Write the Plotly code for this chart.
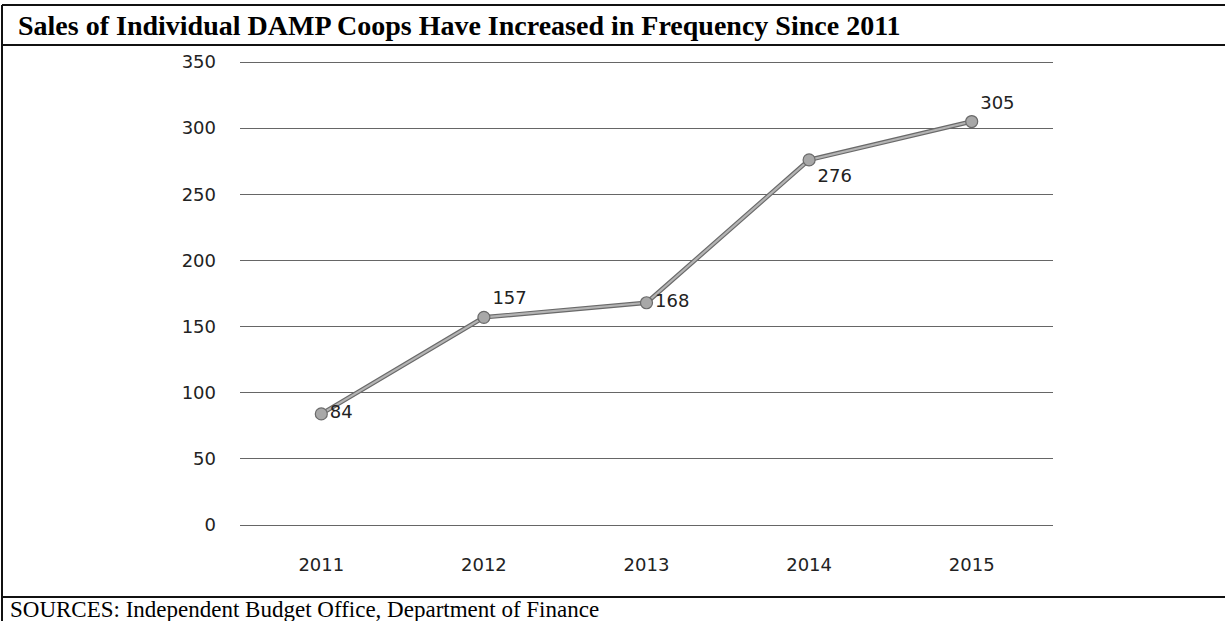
import plotly.graph_objects as go

years = ["2011", "2012", "2013", "2014", "2015"]
sales = [84, 157, 168, 276, 305]
label_pos = ["middle right", "top right", "middle right", "bottom right", "top right"]
y_ticks = [0, 50, 100, 150, 200, 250, 300, 350]

W, H = 1225, 621
L, R, T, B = 240, 1053, 60, 527
scale = 463 / 350.0
y_min = -(B - 525) / scale
y_max = 350 + (62 - T) / scale

def px(x):
    return (x - L) / (R - L)

def py(y):
    return (B - y) / (B - T)

fig = go.Figure()
# dark outline under the line (scanned double-edge look)
fig.add_trace(go.Scatter(
    x=years, y=sales, mode="lines",
    line=dict(color="#6a6a6a", width=4.5),
    hoverinfo="skip", showlegend=False,
))
fig.add_trace(go.Scatter(
    x=years, y=sales, mode="lines+markers+text",
    line=dict(color="#b4b4b4", width=2.2),
    marker=dict(symbol="circle", size=12, color="#a8a8a8",
                line=dict(color="#6a6a6a", width=1.2)),
    text=[str(v) for v in sales], textposition=label_pos,
    textfont=dict(family="DejaVu Sans", size=18, color="#222"),
    cliponaxis=False, showlegend=False,
))

shapes = []
def hline(y, x0=2, x1=1225, w=2):
    shapes.append(dict(type="line", xref="paper", yref="paper",
                       x0=px(x0), x1=px(x1), y0=py(y), y1=py(y),
                       line=dict(color="#111", width=w)))
hline(5)
hline(45)
hline(597)
shapes.append(dict(type="line", xref="paper", yref="paper",
                   x0=px(2), x1=px(2), y0=py(5), y1=py(621),
                   line=dict(color="#111", width=2)))

fig.update_layout(
    width=W, height=H,
    margin=dict(l=L, r=W - R, t=T, b=H - B, pad=0),
    paper_bgcolor="white", plot_bgcolor="white",
    xaxis=dict(type="category", range=[-0.5, 4.5], showgrid=False,
               showline=False, zeroline=False, ticks="",
               tickfont=dict(family="DejaVu Sans", size=18, color="#222"),
               ticklabelstandoff=25),
    yaxis=dict(range=[y_min, y_max], tickvals=y_ticks, showgrid=True,
               gridcolor="#666", gridwidth=1, zeroline=False, showline=False,
               ticks="", tickfont=dict(family="DejaVu Sans", size=18, color="#222"),
               ticklabelstandoff=23),
    shapes=shapes,
    annotations=[
        dict(text="<b>Sales of Individual DAMP Coops Have Increased in Frequency Since 2011</b>",
             xref="paper", yref="paper", x=px(16), y=py(25), xanchor="left", yanchor="middle",
             showarrow=False, font=dict(family="Liberation Serif", size=28, color="#000")),
        dict(text="SOURCES: Independent Budget Office, Department of Finance",
             xref="paper", yref="paper", x=px(8), y=py(609), xanchor="left", yanchor="middle",
             showarrow=False, font=dict(family="Liberation Serif", size=23, color="#000")),
    ],
)

fig.write_html("out.html")
